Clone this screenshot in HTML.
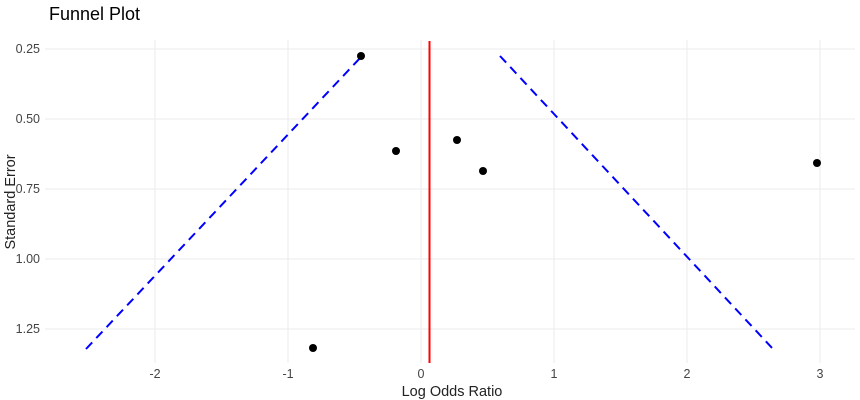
<!DOCTYPE html><html><head><style>body{margin:0;background:#fff}svg{display:block;font-family:"Liberation Sans",sans-serif}</style></head><body>
<svg width="860" height="400">
<g stroke="#ebebeb" stroke-width="1">
<line x1="155" y1="40" x2="155" y2="363"/><line x1="288" y1="40" x2="288" y2="363"/><line x1="421" y1="40" x2="421" y2="363"/><line x1="554" y1="40" x2="554" y2="363"/><line x1="687" y1="40" x2="687" y2="363"/><line x1="820" y1="40" x2="820" y2="363"/>
<line x1="45" y1="49" x2="855" y2="49"/><line x1="45" y1="119" x2="855" y2="119"/><line x1="45" y1="189" x2="855" y2="189"/><line x1="45" y1="259" x2="855" y2="259"/><line x1="45" y1="329" x2="855" y2="329"/>
</g>
<line x1="429.5" y1="41" x2="429.5" y2="363" stroke="#f00" stroke-width="2"/>
<g stroke="#00f" stroke-width="2" stroke-dasharray="9,6" fill="none">
<line x1="86" y1="349" x2="361" y2="57"/><line x1="500" y1="56" x2="773" y2="349"/>
</g>
<g fill="#000"><circle cx="361" cy="56" r="4"/><circle cx="396" cy="151" r="4"/><circle cx="457" cy="140" r="4"/><circle cx="483" cy="171" r="4"/><circle cx="817" cy="163" r="4"/><circle cx="313" cy="348" r="4"/></g>
<g font-size="12.5" fill="#444" text-anchor="end"><text x="40" y="53">0.25</text><text x="40" y="123">0.50</text><text x="40" y="193">0.75</text><text x="40" y="263">1.00</text><text x="40" y="333">1.25</text></g>
<g font-size="12.5" fill="#444" text-anchor="middle"><text x="155" y="378">-2</text><text x="288" y="378">-1</text><text x="421" y="378">0</text><text x="554" y="378">1</text><text x="687" y="378">2</text><text x="820" y="378">3</text></g>
<text x="452" y="396" font-size="14.5" text-anchor="middle" fill="#222">Log Odds Ratio</text>
<text transform="translate(15,202) rotate(-90)" font-size="14.5" text-anchor="middle" fill="#222">Standard Error</text>
<text x="49" y="20" font-size="18" fill="#000">Funnel Plot</text>
</svg></body></html>
